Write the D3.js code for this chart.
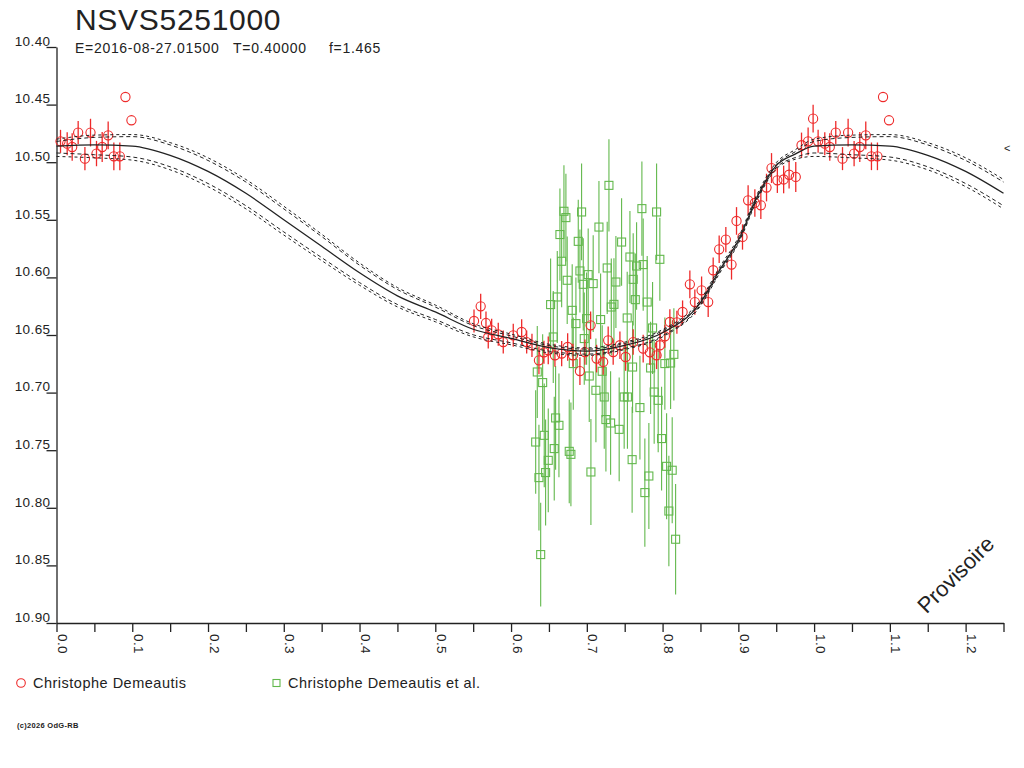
<!DOCTYPE html>
<html><head><meta charset="utf-8">
<script src="https://cdn.jsdelivr.net/npm/d3@7/dist/d3.min.js"></script>
<style>
html,body{margin:0;padding:0;background:#fff;}
svg{display:block;font-family:"Liberation Sans",Arial,sans-serif;}
</style></head>
<body>
<svg id="chart" width="1024" height="768"></svg>
<script>
// ---- text ----
const titleText = "NSVS5251000";
const subtitleParts = ["E=2016-08-27.01500", "T=0.40000", "f=1.465"];
const legendNames = ["Christophe Demeautis", "Christophe Demeautis et al."];
const copyrightText = "(c)2026 OdG-RB";
const watermarkText = "Provisoire";

// ---- axes ----
const phaseDomain = [0, 1.25];
const magDomain = [10.40, 10.90];
const yTickValues = [10.40,10.45,10.50,10.55,10.60,10.65,10.70,10.75,10.80,10.85,10.90];
const xTickValues = [0,0.05,0.1,0.15,0.2,0.25,0.3,0.35,0.4,0.45,0.5,0.55,0.6,0.65,0.7,0.75,0.8,0.85,0.9,0.95,1.0,1.05,1.1,1.15,1.2,1.25];
const xLabelValues = [0,0.1,0.2,0.3,0.4,0.5,0.6,0.7,0.8,0.9,1.0,1.1,1.2];

// ---- fitted light curve (phase 0..1) ----
const fitPhase = [0,0.05,0.1,0.15,0.2,0.25,0.3,0.35,0.4,0.45,0.5,0.55,0.6,0.65,0.7,0.75,0.8,0.85,0.875,0.9,0.925,0.95,0.975,1.0];
const fitMag   = [10.486,10.485,10.486,10.494,10.508,10.527,10.550,10.573,10.596,10.616,10.630,10.645,10.653,10.661,10.664,10.659,10.648,10.622,10.594,10.568,10.530,10.503,10.493,10.486];
const bandUpperOuter = [-0.0060,-0.0085,-0.0100,-0.0110,-0.0118,-0.0120,-0.0118,-0.0105,-0.0085,-0.0072,-0.0060,-0.0048,-0.0038,-0.0030,-0.0028,-0.0028,-0.0028,-0.0026,-0.0026,-0.0026,-0.0026,-0.0026,-0.0038,-0.0060];
const bandUpperInner = [-0.0040,-0.0065,-0.0082,-0.0090,-0.0095,-0.0098,-0.0095,-0.0085,-0.0066,-0.0055,-0.0043,-0.0032,-0.0022,-0.0018,-0.0017,-0.0017,-0.0017,-0.0010,-0.0009,-0.0009,-0.0009,-0.0010,-0.0020,-0.0040];
const bandLowerInner = [0.0060,0.0085,0.0095,0.0100,0.0105,0.0108,0.0105,0.0098,0.0085,0.0075,0.0065,0.0048,0.0038,0.0030,0.0026,0.0026,0.0026,0.0018,0.0017,0.0017,0.0017,0.0018,0.0030,0.0060];
const bandLowerOuter = [0.0090,0.0112,0.0122,0.0126,0.0132,0.0135,0.0132,0.0124,0.0108,0.0096,0.0085,0.0066,0.0055,0.0045,0.0037,0.0036,0.0036,0.0028,0.0027,0.0027,0.0027,0.0028,0.0045,0.0090];

// ---- observations: Christophe Demeautis (red circles) ----
const redPhase = [0.0053,0.0141,0.0207,0.0286,0.0375,0.0449,0.0528,0.0603,0.0682,0.0757,0.0836,0.0910,0.0989,
  0.5511,0.5599,0.5669,0.5744,0.5699,0.5831,0.5897,0.6029,0.6140,0.6206,
  0.6276,0.6368,0.6434,0.6491,0.6579,0.6668,0.6747,0.6817,0.6909,0.6975,0.7050,0.7129,0.7216,0.7282,0.7348,0.7437,0.7512,0.7612,0.7744,0.7832,0.7921,0.7964,0.8030,0.8096,0.8189,0.8264,0.8360,0.8426,
  0.8515,0.8602,0.8668,0.8747,0.8835,0.8910,0.8976,0.9055,0.9129,0.9218,0.9297,0.9372,0.9438,0.9515,0.9598,0.9670,0.9758,0.9834,0.9921,0.9987];
const redMag = [10.4819,10.4839,10.4868,10.4743,10.4969,10.4743,10.4925,10.4868,10.4767,10.4949,10.4949,10.4434,10.4636,
  10.6378,10.6251,10.6396,10.6459,10.6517,10.6494,10.6561,10.6503,10.6474,10.6561,
  10.6590,10.6720,10.6650,10.6633,10.6676,10.6661,10.6604,10.6676,10.6813,10.6648,10.6416,10.6705,10.6734,10.6546,10.6648,10.6589,10.6691,10.6561,10.6618,10.6650,10.6676,10.6589,10.6511,10.6387,10.6390,10.6300,10.6060,10.6214,
  10.6112,10.6214,10.5938,10.5756,10.5672,10.5889,10.5510,10.5649,10.5331,10.5354,10.5374,10.5220,10.5051,10.5157,10.5150,10.5109,10.5128,10.4853,10.4819,10.4622];
const redErr = [0.010,0.010,0.012,0.010,0.010,0.012,0.011,0.013,0.012,0.012,0.012,0,0,
  0.010,0.011,0.010,0.010,0.010,0.010,0.010,0.010,0.011,0.010,
  0.010,0.012,0.010,0.012,0.010,0.011,0.012,0.010,0.012,0.011,0.012,0.012,0.011,0.012,0.011,0.012,0.012,0.011,0.012,0.011,0.012,0.011,0.010,0.011,0.010,0.010,0.012,0.011,
  0.012,0.013,0.011,0.012,0.011,0.013,0.012,0.011,0.013,0.012,0.012,0.012,0.013,0.011,0.012,0.012,0.013,0.011,0.012,0.012];

// ---- observations: Christophe Demeautis et al. (green squares) ----
const greenPhase = [0.7292,0.6698,0.6931,0.6724,0.7160,0.7727,0.7921,0.6645,0.6887,0.7459,0.6668,0.7569,0.7657,0.7744,0.7964,0.7269,0.6909,0.7018,0.6741,0.6953,0.7084,0.7384,0.7612,0.6610,0.6522,0.7358,0.7323,0.7640,0.7797,0.6807,0.7533,0.7182,0.6997,0.6856,0.7868,0.6557,0.6966,
  0.6346,0.6417,0.6821,0.7032,0.7203,0.7604,0.7842,0.8030,0.8106,0.8149,0.7120,0.7230,0.7493,0.7536,0.7889,0.7942,0.7701,0.6588,0.6632,0.7252,0.7314,0.7427,0.6438,0.6325,0.6570,0.6768,0.6790,0.7987,0.6491,0.7598,0.6456,0.6368,0.7054,0.8053,0.8127,0.7819,0.7766,0.8083,0.8172,0.6391];
const greenMag = [10.5201,10.5426,10.5432,10.5481,10.5563,10.5403,10.5432,10.5628,10.5687,10.5693,10.5860,10.5823,10.5901,10.5889,10.5843,10.5918,10.5944,10.5976,10.6025,10.6060,10.6054,10.6040,10.6017,10.6170,10.6236,10.6234,10.6257,10.6193,10.6214,10.6286,10.6352,10.6366,10.6358,10.6401,10.6439,10.6517,10.6531,
  10.6821,10.6913,10.6748,10.6856,10.6815,10.6778,10.6786,10.6748,10.6743,10.6668,10.6980,10.7038,10.7038,10.7038,10.6995,10.7067,10.7130,10.7220,10.7284,10.7234,10.7264,10.7319,10.7371,10.7429,10.7486,10.7510,10.7536,10.7399,10.7588,10.7582,10.7694,10.7738,10.7689,10.7640,10.7674,10.7724,10.7868,10.8028,10.8273,10.8406];
const greenErr = [0.040,0.040,0.042,0.038,0.040,0.041,0.042,0.040,0.036,0.038,0.040,0.040,0.038,0.040,0.036,0.040,0.036,0.040,0.038,0.040,0.042,0.040,0.040,0.040,0.040,0.040,0.042,0.040,0.040,0.040,0.040,0.040,0.040,0.040,0.040,0.040,0.040,
  0.040,0.042,0.040,0.040,0.040,0.040,0.040,0.040,0.040,0.040,0.045,0.045,0.045,0.045,0.045,0.045,0.045,0.045,0.045,0.045,0.045,0.045,0.045,0.045,0.045,0.045,0.045,0.045,0.045,0.046,0.046,0.046,0.046,0.046,0.046,0.046,0.047,0.048,0.048,0.045];

// ---- drawing ----
const svg = d3.select("#chart");
const x = d3.scaleLinear().domain(phaseDomain).range([56.5, 1003.5]);
const y = d3.scaleLinear().domain(magDomain).range([47, 623]);
const RED = "#ee2a2a", GREEN = "#62b84c", INK = "#222";
const FONT = "'Liberation Sans',Arial,sans-serif";

// wrap helper: phases < 0.25 repeated at phase+1
function wrap(ph, mg, er) {
  const out = [];
  ph.forEach((p, i) => {
    out.push({p, m: mg[i], e: er ? er[i] : 0});
    if (p + 1 <= phaseDomain[1]) out.push({p: p + 1, m: mg[i], e: er ? er[i] : 0});
  });
  return out;
}

// Axes
const yAxis = d3.axisLeft(y).tickValues(yTickValues).tickSize(10).tickSizeOuter(0).tickFormat(d3.format(".2f"));
const gy = svg.append("g").attr("transform", "translate(56.5,0)").call(yAxis);
gy.selectAll("path,line").attr("stroke", INK).attr("stroke-width", 1.3);
gy.selectAll("text").attr("x", -6).attr("dy", "-0.12em").attr("fill", INK)
  .style("font-size", "13.5px").style("letter-spacing", "0.4px").style("font-family", FONT);

const xAxis = d3.axisBottom(x).tickValues(xTickValues).tickSize(9).tickSizeOuter(0)
  .tickFormat(d => xLabelValues.some(v => Math.abs(v - d) < 1e-6) ? d3.format(".1f")(d) : "");
const gx = svg.append("g").attr("transform", "translate(0,623)").call(xAxis);
gx.selectAll("path,line").attr("stroke", INK).attr("stroke-width", 1.3);
gx.selectAll("text").attr("x", null).attr("y", null).attr("dy", null)
  .attr("text-anchor", "start")
  .attr("transform", "translate(1,11) rotate(90)")
  .attr("fill", INK).style("font-size", "13.5px").style("letter-spacing", "0.4px").style("font-family", FONT);

// Green observations
const greenData = wrap(greenPhase, greenMag, greenErr).filter(d => d.p <= phaseDomain[1]);
const gG = svg.append("g");
gG.selectAll("line").data(greenData).join("line")
  .attr("x1", d => x(d.p)).attr("x2", d => x(d.p))
  .attr("y1", d => y(d.m - d.e)).attr("y2", d => y(d.m + d.e))
  .attr("stroke", GREEN).attr("stroke-width", 1.1);
gG.selectAll("rect").data(greenData).join("rect")
  .attr("x", d => x(d.p) - 4).attr("y", d => y(d.m) - 4)
  .attr("width", 8).attr("height", 8)
  .attr("fill", "none").attr("stroke", GREEN).attr("stroke-width", 1.1);

// Red observations
const redData = wrap(redPhase, redMag, redErr).filter(d => d.p <= phaseDomain[1]);
const gR = svg.append("g");
gR.selectAll("line").data(redData.filter(d => d.e > 0)).join("line")
  .attr("x1", d => x(d.p)).attr("x2", d => x(d.p))
  .attr("y1", d => y(d.m - d.e)).attr("y2", d => y(d.m + d.e))
  .attr("stroke", RED).attr("stroke-width", 1.3);
gR.selectAll("circle").data(redData).join("circle")
  .attr("cx", d => x(d.p)).attr("cy", d => y(d.m)).attr("r", 4.6)
  .attr("fill", "none").attr("stroke", RED).attr("stroke-width", 1.1);

// Fit curves
function curvePoints(offsets) {
  const pts = [];
  fitPhase.forEach((p, i) => pts.push([p, fitMag[i] + (offsets ? offsets[i] : 0)]));
  fitPhase.forEach((p, i) => { if (p > 0 && p + 1 <= phaseDomain[1] + 1e-9) pts.push([p + 1, fitMag[i] + (offsets ? offsets[i] : 0)]); });
  return pts;
}
const line = d3.line().x(d => x(d[0])).y(d => y(d[1])).curve(d3.curveMonotoneX);
const gF = svg.append("g").attr("fill", "none");
[[bandUpperOuter, "3,3"], [bandUpperInner, "4,3"], [bandLowerInner, "4,3"], [bandLowerOuter, "3,3"]].forEach(([off, dash]) => {
  gF.append("path").attr("d", line(curvePoints(off))).attr("stroke", INK).attr("stroke-width", 1).attr("stroke-dasharray", dash);
});
gF.append("path").attr("d", line(curvePoints(null))).attr("stroke", INK).attr("stroke-width", 1.3);

// edge marker
svg.append("text").attr("x", 1004).attr("y", 152).text("<").attr("fill", INK).style("font-size", "11px");

// Title & subtitle
svg.append("text").attr("x", 75).attr("y", 30).text(titleText).attr("fill", INK)
  .style("font-size", "30px").style("letter-spacing", "0.7px");
const subX = [75, 233, 329];
subtitleParts.forEach((t, i) => {
  svg.append("text").attr("x", subX[i]).attr("y", 53).text(t).attr("fill", INK)
    .style("font-size", "14px").style("letter-spacing", "0.7px");
});

// Legend
svg.append("circle").attr("cx", 21).attr("cy", 683).attr("r", 4.3).attr("fill", "none").attr("stroke", RED).attr("stroke-width", 1.1);
svg.append("text").attr("x", 33).attr("y", 688).text(legendNames[0]).attr("fill", INK)
  .style("font-size", "14.5px").style("letter-spacing", "0.5px");
svg.append("rect").attr("x", 273).attr("y", 679.5).attr("width", 7).attr("height", 7).attr("fill", "none").attr("stroke", GREEN).attr("stroke-width", 1.1);
svg.append("text").attr("x", 288).attr("y", 688).text(legendNames[1]).attr("fill", INK)
  .style("font-size", "14.5px").style("letter-spacing", "0.5px");

// Copyright
svg.append("text").attr("x", 17).attr("y", 728).text(copyrightText).attr("fill", INK)
  .style("font-size", "7.5px").style("font-weight", "bold").style("letter-spacing", "0.3px");

// Watermark
svg.append("text").attr("transform", "translate(961,580) rotate(-45)").attr("text-anchor", "middle")
  .text(watermarkText).attr("fill", INK).style("font-size", "22px");
</script>
</body></html>
